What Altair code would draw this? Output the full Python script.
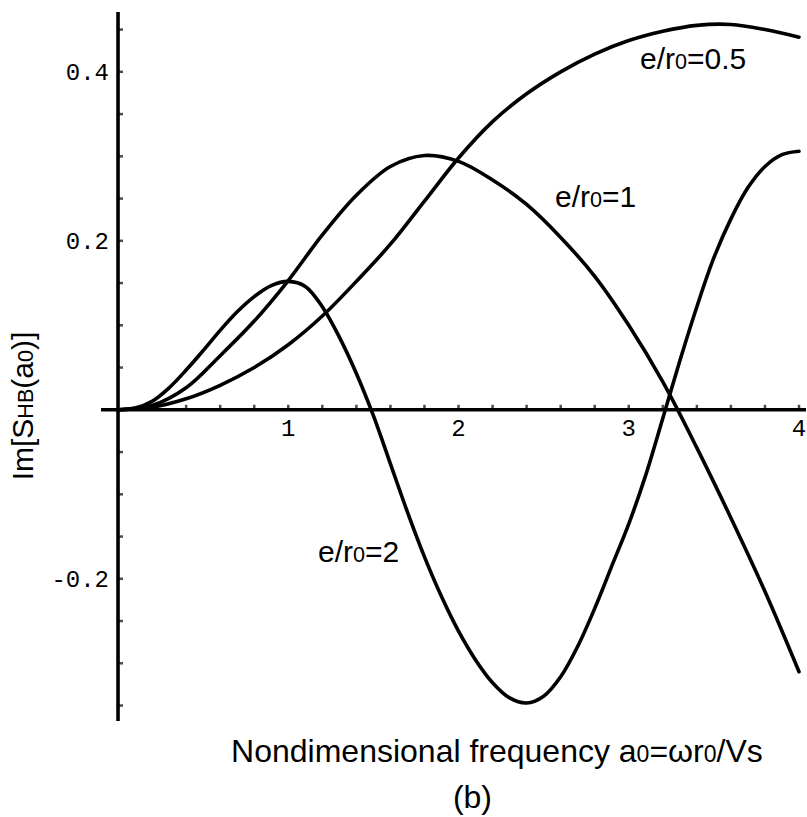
import altair as alt
import pandas as pd

# ---------------- data ----------------
a0_coarse = [0.0, 0.2, 0.4, 0.6, 0.8, 1.0, 1.2, 1.4, 1.6, 1.8, 2.0,
             2.2, 2.4, 2.6, 2.8, 3.0, 3.2, 3.4, 3.6, 3.8, 4.0]
im_e05 = [0.000, 0.003, 0.013, 0.029, 0.050, 0.077, 0.111, 0.152, 0.196, 0.247, 0.298,
          0.341, 0.374, 0.400, 0.421, 0.437, 0.448, 0.455, 0.456, 0.450, 0.441]
im_e1 = [0.000, 0.005, 0.026, 0.064, 0.105, 0.153, 0.207, 0.254, 0.288, 0.301, 0.294,
         0.272, 0.243, 0.204, 0.158, 0.100, 0.033, -0.045, -0.128, -0.215, -0.310]

a0_fine = [0.0, 0.1, 0.2, 0.3, 0.4, 0.5, 0.6, 0.7, 0.8, 0.9, 1.0,
           1.1, 1.2, 1.3, 1.4, 1.5, 1.6, 1.7, 1.8, 1.9, 2.0,
           2.1, 2.2, 2.3, 2.4, 2.5, 2.6, 2.7, 2.8, 2.9, 3.0,
           3.1, 3.2, 3.3, 3.4, 3.5, 3.6, 3.7, 3.8, 3.9, 4.0]
im_e2 = [0.000, 0.002, 0.010, 0.026, 0.047, 0.070, 0.094, 0.116, 0.134, 0.147, 0.152,
         0.146, 0.122, 0.086, 0.043, -0.007, -0.064, -0.121, -0.174, -0.221, -0.262,
         -0.296, -0.323, -0.341, -0.347, -0.339, -0.316, -0.280, -0.235, -0.185, -0.135,
         -0.077, -0.010, 0.058, 0.122, 0.180, 0.226, 0.263, 0.288, 0.302, 0.306]

x_tick_values = [0.2, 0.4, 0.6, 0.8, 1.0, 1.2, 1.4, 1.6, 1.8, 2.0,
                 2.2, 2.4, 2.6, 2.8, 3.0, 3.2, 3.4, 3.6, 3.8, 4.0]
y_tick_values = [-0.35, -0.3, -0.25, -0.2, -0.15, -0.1, -0.05,
                 0.05, 0.1, 0.15, 0.2, 0.25, 0.3, 0.35, 0.4, 0.45]
x_label_values = [1, 2, 3, 4]
x_label_text = ["1", "2", "3", "4"]
y_label_values = [0.4, 0.2, -0.2]
y_label_text = ["0.4", "0.2", "-0.2"]

# ---------------- scales ----------------
XS = alt.Scale(domain=[-0.1, 4.041], nice=False, zero=False)
YS = alt.Scale(domain=[-0.3683, 0.4708], nice=False, zero=False)


def X(f):
    return alt.X(f, type="quantitative", scale=XS, axis=None)


def Y(f):
    return alt.Y(f, type="quantitative", scale=YS, axis=None)


# Liberation Sans (Arial metrics) advance widths, per em
W = {'N': .722, 'o': .556, 'n': .556, 'd': .556, 'i': .222, 'm': .833, 'e': .556,
     's': .5, 'a': .556, 'l': .222, ' ': .278, 'f': .278, 'r': .333, 'q': .556,
     'u': .556, 'c': .5, 'y': .5, '=': .584, 'ω': .78, '/': .278, 'V': .667,
     'I': .278, '[': .278, ']': .278, 'S': .667, 'H': .722, 'B': .667, '(': .333,
     ')': .333, '0': .556, '1': .556, '2': .556, '5': .556, '.': .278, 'b': .556}


def tw(s, fs):
    return sum(W.get(c, 0.556) for c in s) * fs


def pieces(parts, x, y, angle=0):
    layers = []
    off = 0.0
    for txt, fs in parts:
        layers.append(
            alt.Chart(pd.DataFrame({"x": [x], "y": [y], "t": [txt]}))
            .mark_text(font="Liberation Sans", fontSize=fs, align="left",
                       baseline="alphabetic", dx=round(off, 2), angle=angle,
                       color="black")
            .encode(x=X("x"), y=Y("y"), text="t:N")
        )
        off += tw(txt, fs)
    return layers


# ---------------- curves ----------------
rows = []
for xv, yv in zip(a0_coarse, im_e05):
    rows.append({"a0": xv, "im": yv, "curve": "e/r0=0.5"})
for xv, yv in zip(a0_coarse, im_e1):
    rows.append({"a0": xv, "im": yv, "curve": "e/r0=1"})
for xv, yv in zip(a0_fine, im_e2):
    rows.append({"a0": xv, "im": yv, "curve": "e/r0=2"})
curves_df = pd.DataFrame(rows)

curves = alt.Chart(curves_df).mark_line(
    color="black", strokeWidth=3.6, interpolate="catmull-rom", strokeCap="round"
).encode(x=X("a0"), y=Y("im"), detail="curve:N")

zero_df = pd.DataFrame({"v": [0]})
x_axis_line = alt.Chart(zero_df).mark_rule(color="black", strokeWidth=3.6).encode(y=Y("v"))
y_axis_line = alt.Chart(zero_df).mark_rule(color="black", strokeWidth=3.6).encode(x=X("v"))

x_ticks = alt.Chart(pd.DataFrame({"t": x_tick_values, "z": 0})).mark_tick(
    orient="vertical", size=5, thickness=2.5, yOffset=-2.5, color="black"
).encode(x=X("t"), y=Y("z"))
y_ticks = alt.Chart(pd.DataFrame({"t": y_tick_values, "z": 0})).mark_tick(
    orient="horizontal", size=5, thickness=2.5, xOffset=2.5, color="black"
).encode(y=Y("t"), x=X("z"))

x_labels = alt.Chart(pd.DataFrame({"v": x_label_values, "lab": x_label_text, "z": 0})).mark_text(
    font="Liberation Mono", fontSize=24, align="center", baseline="middle", dy=19, color="black"
).encode(x=X("v"), y=Y("z"), text="lab:N")
y_labels = alt.Chart(pd.DataFrame({"v": y_label_values, "lab": y_label_text, "z": 0})).mark_text(
    font="Liberation Mono", fontSize=24, align="right", baseline="middle", dx=-9, dy=1, color="black"
).encode(y=Y("v"), x=X("z"), text="lab:N")

F = 30
s = 0.72
ann = []
ann += pieces([("e/r", F), ("0", F * s), ("=0.5", F)], 3.066, 0.403)
ann += pieces([("e/r", F), ("0", F * s), ("=1", F)], 2.567, 0.2396)
ann += pieces([("e/r", F), ("0", F * s), ("=2", F)], 1.175, -0.1805)

FX = 32
ann += pieces([("Nondimensional frequency a", FX), ("0", FX * s), ("=ωr", FX),
               ("0", FX * s), ("/Vs", FX)], 0.664, -0.4172)
ann += pieces([("(b)", FX)], 1.967, -0.4716)

FY = 30
ann += pieces([("Im[S", FY), ("HB", FY * s), ("(a", FY), ("0", FY * s), (")]", FY)],
              -0.4993, -0.0835, angle=270)

chart = alt.layer(
    x_axis_line, y_axis_line, x_ticks, y_ticks, curves, x_labels, y_labels, *ann
).properties(
    width=705, height=709,
    padding={"left": 101, "top": 12, "right": 1, "bottom": 96},
    autosize=alt.AutoSizeParams(type="none"),
    background="white",
).configure_view(stroke=None)

chart.save("out.html", embed_options={"renderer": "svg", "actions": False})
